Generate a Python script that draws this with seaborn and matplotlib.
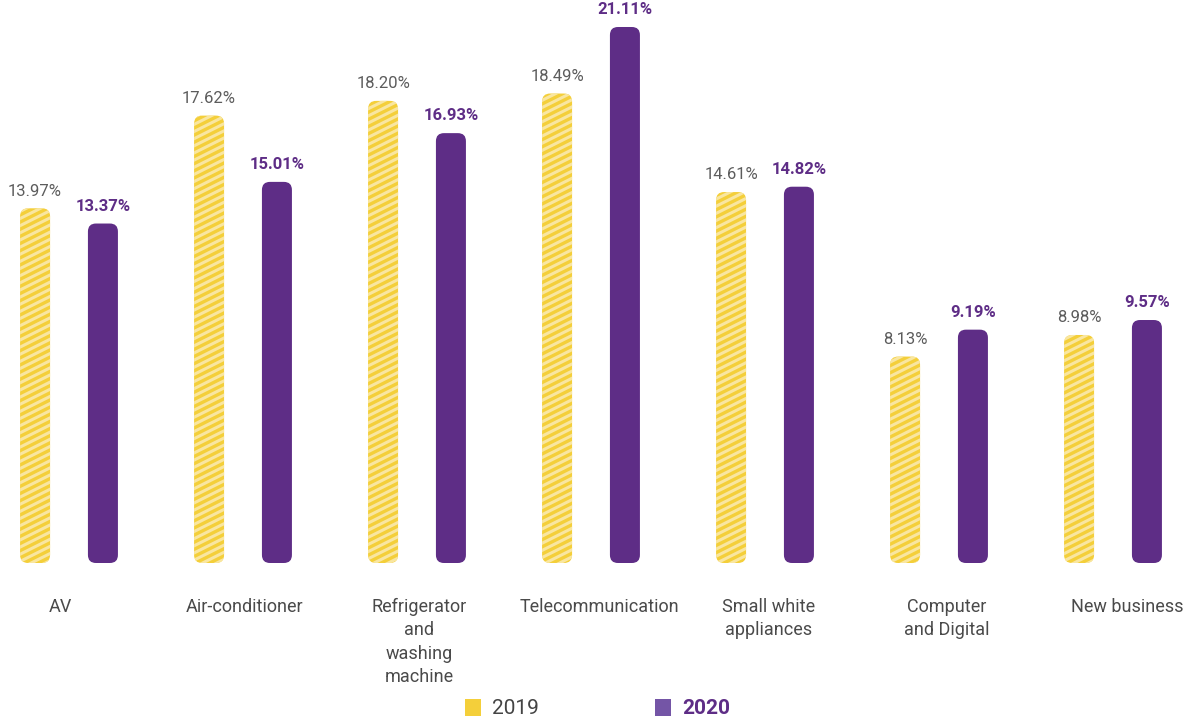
import matplotlib
matplotlib.use("Agg")
import matplotlib.pyplot as plt
from matplotlib import hatch as mhatch
from matplotlib.path import Path
from matplotlib.patches import FancyBboxPatch, Rectangle
import numpy as np
import seaborn as sns
import pandas as pd

categories = ["AV", "Air-conditioner", "Refrigerator\nand\nwashing\nmachine",
              "Telecommunication", "Small white\nappliances", "Computer\nand Digital",
              "New business"]
share_2019 = [13.97, 17.62, 18.20, 18.49, 14.61, 8.13, 8.98]
share_2020 = [13.37, 15.01, 16.93, 21.11, 14.82, 9.19, 9.57]
years = ["2019", "2020"]

YELLOW = "#f4cf3a"
STRIPE = "#f9e6a0"
PURPLE = "#5e2d86"
LEGEND_PURPLE = "#7455a6"
GRAY = "#4a4a4a"


class ShallowStripeHatch(mhatch.HatchPatternBase):
    """Stripes rising at a slope of 1/2, used in place of the '-' hatch."""

    def __init__(self, hatch, density):
        self.num_lines = hatch.count('-') * 7
        self.offsets = (np.arange(-self.num_lines // 2, self.num_lines + 1)
                        / self.num_lines if self.num_lines else np.empty(0))
        self.num_vertices = 2 * len(self.offsets)

    def set_vertices_and_codes(self, vertices, codes):
        vertices[0::2, 0] = 0.0
        vertices[0::2, 1] = self.offsets
        vertices[1::2, 0] = 1.0
        vertices[1::2, 1] = self.offsets + 0.5
        codes[0::2] = Path.MOVETO
        codes[1::2] = Path.LINETO


mhatch._hatch_types = [ShallowStripeHatch if c is mhatch.HorizontalHatch else c
                       for c in mhatch._hatch_types]

df = pd.DataFrame({
    "category": categories * 2,
    "year": [years[0]] * len(categories) + [years[1]] * len(categories),
    "share": share_2019 + share_2020,
})

sns.set_theme(style="white")
plt.rcParams["font.family"] = ["Roboto", "DejaVu Sans"]
plt.rcParams["hatch.linewidth"] = 2.2

W, H = 1193, 719
fig = plt.figure(figsize=(W / 100, H / 100), dpi=100)
base_px = 563
ax = fig.add_axes([0, (H - base_px) / H, 1, 558.6 / H])

sns.barplot(data=df, x="category", y="share", hue="year", order=categories,
            hue_order=years, palette=[YELLOW, PURPLE], width=0.78,
            dodge=True, legend=False, ax=ax)

ax.set_xlim(-69 / 174, (W - 69) / 174)
ax.set_ylim(0, 22)
for s in ax.spines.values():
    s.set_visible(False)
ax.set_ylabel("")
ax.set_xlabel("")
ax.set_yticks([])
ax.set_xticks([])

fig.canvas.draw()
# pixels per data unit, used to keep the corner rounding circular
x0, y0 = ax.transData.transform((0, 0))
x1, y1 = ax.transData.transform((1, 1))
px_x = x1 - x0
px_y = y1 - y0
bar_w = 30 / px_x
radius = 8 / px_x
aspect = px_x / px_y

bars = list(ax.patches)
n = len(categories)
for i, p in enumerate(bars):
    cx = p.get_x() + p.get_width() / 2
    h = p.get_height()
    p.remove()
    if i < n:
        box = FancyBboxPatch((cx - bar_w / 2, 0), bar_w, h,
                             boxstyle=f"round,pad=0,rounding_size={radius}",
                             mutation_aspect=aspect, facecolor=YELLOW,
                             edgecolor=STRIPE, linewidth=0, hatch="--")
        ax.add_patch(box)
        ax.text(cx, h + 0.38, f"{h:.2f}%", ha="center", va="bottom",
                fontsize=12, color="#5c5c5c")
    else:
        box = FancyBboxPatch((cx - bar_w / 2, 0), bar_w, h,
                             boxstyle=f"round,pad=0,rounding_size={radius}",
                             mutation_aspect=aspect, facecolor=PURPLE,
                             edgecolor=PURPLE, linewidth=0)
        ax.add_patch(box)
        ax.text(cx, h + 0.38, f"{h:.2f}%", ha="center", va="bottom",
                fontsize=12, color=PURPLE, fontweight="bold")

# category names under each pair, nudged slightly in pixels
nudge_px = [-9, 2, 2, 8, 4, 8, 14]
for i, (cat, dx) in enumerate(zip(categories, nudge_px)):
    ax.text(i + dx / px_x, -35 / px_y, cat, ha="center", va="top",
            multialignment="center", fontsize=13, color=GRAY,
            linespacing=1.38, clip_on=False)

# legend
fig.patches.append(Rectangle((465 / W, 1 - 716 / H), 16 / W, 17 / H,
                             transform=fig.transFigure, facecolor=YELLOW,
                             edgecolor="none"))
fig.text(492 / W, 1 - 708 / H, years[0], fontsize=15, color="#444444",
         va="center", ha="left")
fig.patches.append(Rectangle((655 / W, 1 - 716 / H), 16 / W, 17 / H,
                             transform=fig.transFigure, facecolor=LEGEND_PURPLE,
                             edgecolor="none"))
fig.text(682 / W, 1 - 708 / H, years[1], fontsize=15, color=PURPLE,
         fontweight="bold", va="center", ha="left")

fig.savefig("out.png", dpi=100)
